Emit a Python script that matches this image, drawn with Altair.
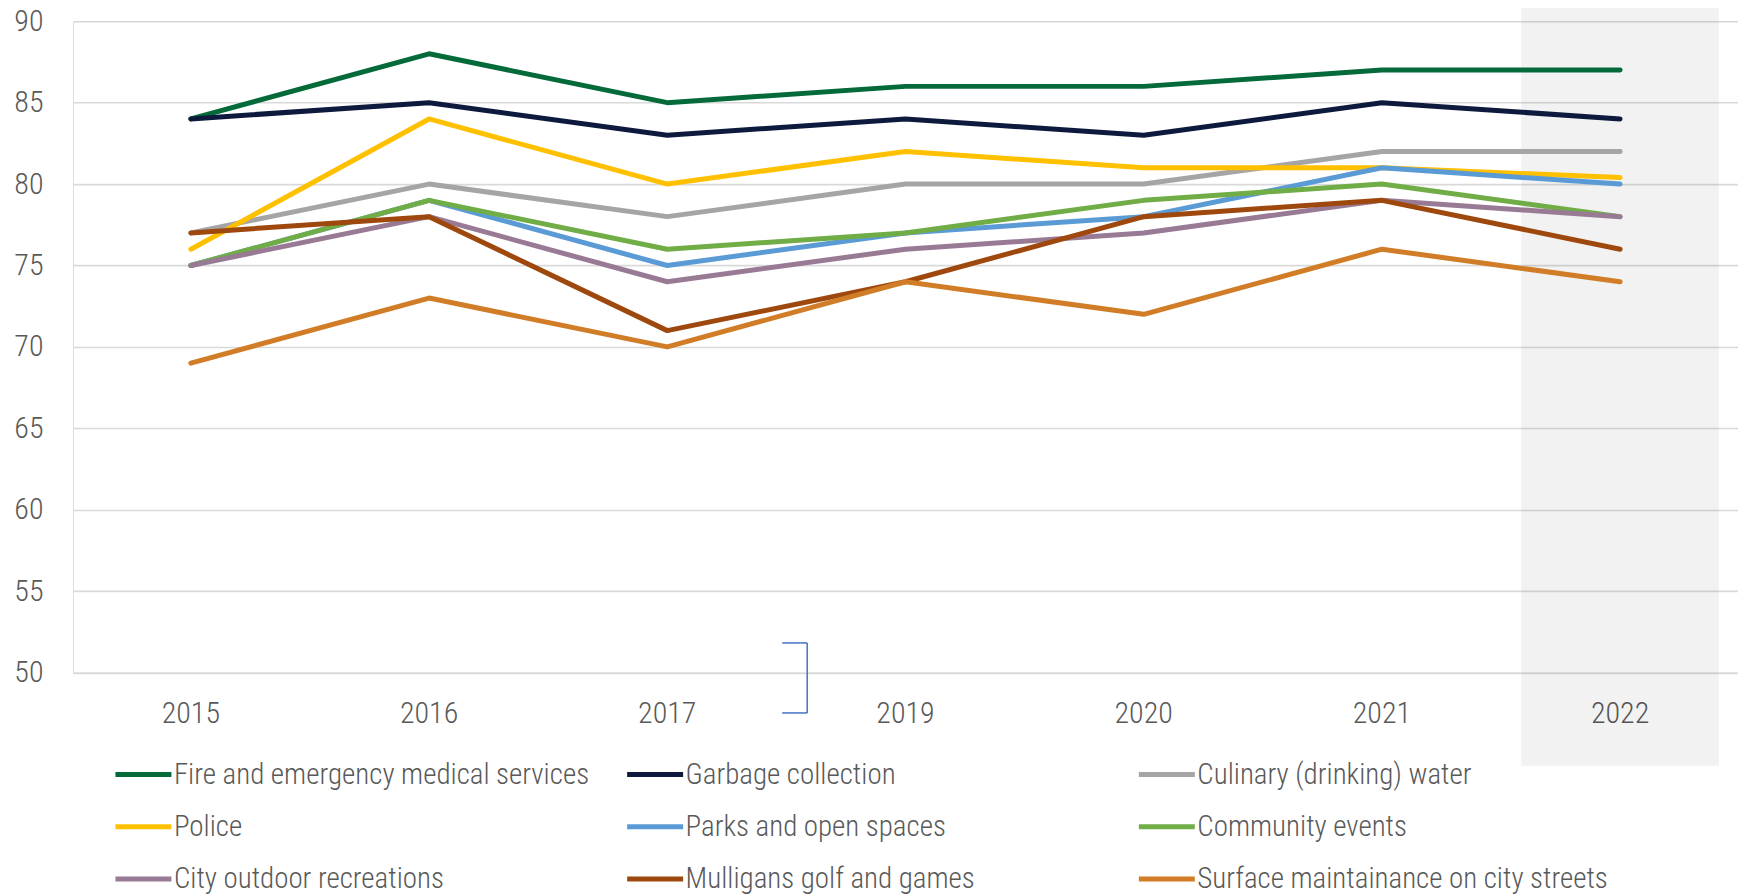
import altair as alt
import pandas as pd

years = ["2015", "2016", "2017", "2019", "2020", "2021", "2022"]

series_names = [
    "Fire and emergency medical services",
    "Garbage collection",
    "Culinary (drinking) water",
    "Police",
    "Parks and open spaces",
    "Community events",
    "City outdoor recreations",
    "Mulligans golf and games",
    "Surface maintainance on city streets",
]

fire = [84, 88, 85, 86, 86, 87, 87]
garbage = [84, 85, 83, 84, 83, 85, 84]
culinary = [77, 80, 78, 80, 80, 82, 82]
police = [76, 84, 80, 82, 81, 81, 80.4]
parks = [75, 79, 75, 77, 78, 81, 80]
community = [75, 79, 76, 77, 79, 80, 78]
outdoor = [75, 78, 74, 76, 77, 79, 78]
mulligans = [77, 78, 71, 74, 78, 79, 76]
surface = [69, 73, 70, 74, 72, 76, 74]

series_values = [fire, garbage, culinary, police, parks, community, outdoor, mulligans, surface]

colors = ["#046A3A", "#0E1A3D", "#A5A5A5", "#FFC000", "#5B9BD5",
          "#70AD47", "#997A95", "#9E480E", "#D17D27"]

y_ticks = [50, 55, 60, 65, 70, 75, 80, 85, 90]

# shaded highlight band behind the latest year
highlight_year = ["2022"]
highlight_top = [91.5]
highlight_bottom = [44.27]

# stray bracket shape between 2017 and 2019
bracket_year = ["2017"]
bracket_top = [51.82]
bracket_bottom = [47.52]

rows = []
for name, vals in zip(series_names, series_values):
    for yr, v in zip(years, vals):
        rows.append({"series": name, "year": yr, "value": v})
df = pd.DataFrame(rows)

shade_df = pd.DataFrame({"year": highlight_year, "top": highlight_top, "bottom": highlight_bottom})
bracket_df = pd.DataFrame({"year": bracket_year, "top": bracket_top, "bottom": bracket_bottom})

FONT = "Roboto Condensed, Liberation Sans Narrow, DejaVu Sans Condensed, sans-serif"
TXT = "#595959"
WEIGHT = 300

x_enc = alt.X(
    "year:N",
    sort=years,
    scale=alt.Scale(type="band", domain=years, paddingInner=0.17, paddingOuter=0.08),
    axis=alt.Axis(title=None, labelAngle=0, domain=False, ticks=False, grid=False,
                  labelPadding=41, labelBaseline="middle", labelFontSize=30,
                  labelColor=TXT, labelFont=FONT, labelFontWeight=WEIGHT),
)

y_axis = alt.Axis(title=None, values=y_ticks, domain=False, ticks=False, grid=True,
                  gridColor="#D9D9D9", gridWidth=1.6, labelPadding=30,
                  labelFontSize=30, labelColor=TXT, labelFont=FONT,
                  labelFontWeight=WEIGHT)
y_scale = alt.Scale(domain=[50, 90], nice=False, zero=False)

shade = alt.Chart(shade_df).mark_bar(color="#000000", opacity=0.05, width=197.8).encode(
    x=x_enc,
    y=alt.Y("top:Q", scale=y_scale, axis=y_axis),
    y2="bottom:Q",
)

lines = alt.Chart(df).mark_line(strokeWidth=5, strokeCap="round", strokeJoin="round").encode(
    x=x_enc,
    y=alt.Y("value:Q", scale=y_scale, axis=y_axis),
    color=alt.Color(
        "series:N",
        sort=series_names,
        scale=alt.Scale(domain=series_names, range=colors),
        legend=alt.Legend(
            title=None, orient="none", legendX=40, legendY=723,
            direction="horizontal", columns=3, gridAlign="all",
            symbolType="stroke", symbolSize=3136, symbolStrokeWidth=5,
            labelFontSize=29, labelColor=TXT, labelFont=FONT,
            labelFontWeight=WEIGHT, labelOffset=0,
            labelLimit=1000, columnPadding=27, rowPadding=6.4, padding=0,
        ),
    ),
)

bracket_color = "#4472C4"
bracket_v = alt.Chart(bracket_df).mark_rule(color=bracket_color, strokeWidth=1.5, xOffset=140).encode(
    x=x_enc,
    y=alt.Y("top:Q", scale=y_scale, axis=y_axis),
    y2="bottom:Q",
)
bracket_a1 = alt.Chart(bracket_df).mark_rule(color=bracket_color, strokeWidth=1.5, xOffset=115, x2Offset=140).encode(
    x=x_enc,
    x2="year:N",
    y=alt.Y("top:Q", scale=y_scale, axis=y_axis),
)
bracket_a2 = alt.Chart(bracket_df).mark_rule(color=bracket_color, strokeWidth=1.5, xOffset=115, x2Offset=140).encode(
    x=x_enc,
    x2="year:N",
    y=alt.Y("bottom:Q", scale=y_scale, axis=y_axis),
)

chart = alt.layer(shade, bracket_v, bracket_a1, bracket_a2, lines).properties(
    width=1666,
    height=651.7,
    autosize=alt.AutoSizeParams(type="none"),
    padding={"left": 65, "top": 13, "right": 0, "bottom": 222},
).configure_view(strokeWidth=0).configure(font=FONT, background="#FFFFFF")

chart.save("out.html", embed_options={"renderer": "svg", "actions": False})
